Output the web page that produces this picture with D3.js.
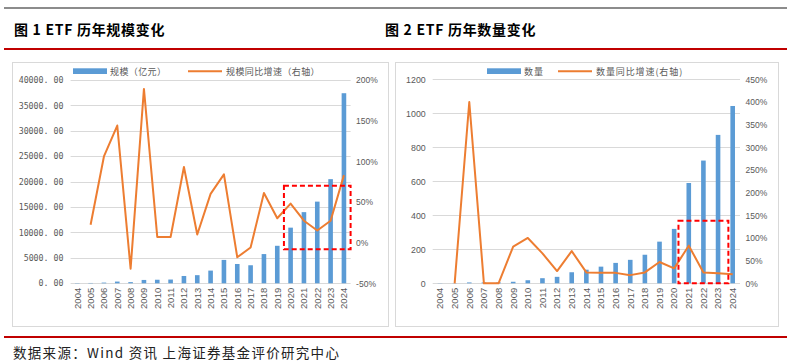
<!DOCTYPE html>
<html>
<head>
<meta charset="UTF-8">
<title>ETF</title>
<script src="https://d3js.org/d3.v7.min.js"></script>
<style>
  body { margin: 0; background: #fff; }
  svg { display: block; }
</style>
</head>
<body>
<div id="chart"></div>
<script>
// data
var years = ["2004", "2005", "2006", "2007", "2008", "2009", "2010", "2011", "2012", "2013",
             "2014", "2015", "2016", "2017", "2018", "2019", "2020", "2021", "2022", "2023", "2024"];
// fig 1: scale (100m yuan) and yoy growth (%)
var scaleValues = [54, 66, 140, 340, 230, 660, 700, 740, 1440, 1600, 2500, 4600, 3800, 3550,
                   5750, 7380, 10950, 14000, 16070, 20490, 37400];
var scaleGrowth = [null, 22, 106, 144, -32, 189, 7, 7, 93, 10, 60, 84, -18, -6,
                   61, 30, 48, 27, 15, 27, 83];
// fig 2: number of ETFs and yoy growth (%)
var countValues = [1, 1, 5, 5, 5, 9, 18, 30, 38, 65, 80, 98, 120, 138, 168, 245, 320, 590, 722, 873, 1043];
var countGrowth = [null, 0, 400, 0, 0, 81, 100, 66, 27, 71, 24, 23, 23, 18, 24, 47, 33, 83, 24, 22, 20];

// axis ticks
var leftTicks1 = [0, 5000, 10000, 15000, 20000, 25000, 30000, 35000, 40000];
var rightTicks1 = [-50, 0, 50, 100, 150, 200];
var leftTicks2 = [0, 200, 400, 600, 800, 1000, 1200];
var rightTicks2 = [0, 50, 100, 150, 200, 250, 300, 350, 400, 450];

var W = 796, H = 363;
var blue = "#5B9BD5", orange = "#ED7D31", grid = "#d9d9d9", txt = "#595959";
var cjk = "'Noto Sans CJK SC', sans-serif";

var svg = d3.select("#chart").append("svg")
    .attr("width", W)
    .attr("height", H);

svg.append("rect").attr("width", W).attr("height", H).attr("fill", "#fff");

// page rules
svg.append("line").attr("x1", 4).attr("x2", 787).attr("y1", 8).attr("y2", 8)
    .attr("stroke", "#8c8c8c").attr("stroke-width", 2);
svg.append("line").attr("x1", 4).attr("x2", 787).attr("y1", 49).attr("y2", 49)
    .attr("stroke", "#c00000").attr("stroke-width", 2);
svg.append("line").attr("x1", 4).attr("x2", 787).attr("y1", 337).attr("y2", 337)
    .attr("stroke", "#c00000").attr("stroke-width", 2);

// titles
svg.append("text").attr("x", 14).attr("y", 35)
    .attr("font-family", cjk).attr("font-weight", "bold").attr("font-size", "14px")
    .attr("letter-spacing", "0.7px")
    .attr("fill", "#000").text("图 1 ETF 历年规模变化");
svg.append("text").attr("x", 385).attr("y", 35)
    .attr("font-family", cjk).attr("font-weight", "bold").attr("font-size", "14px")
    .attr("letter-spacing", "0.7px")
    .attr("fill", "#000").text("图 2 ETF 历年数量变化");

// source
svg.append("text").attr("x", 13).attr("y", 358)
    .attr("font-family", cjk).attr("font-size", "13.5px")
    .attr("letter-spacing", "1.3px")
    .attr("fill", "#222").text("数据来源：Wind 资讯 上海证券基金评价研究中心");

// draws one panel
function drawPanel(cfg) {
    var g = svg.append("g");

    // frame
    g.append("rect")
        .attr("x", cfg.box[0] + 0.5).attr("y", cfg.box[1] + 0.5)
        .attr("width", cfg.box[2]).attr("height", cfg.box[3])
        .attr("fill", "#fff").attr("stroke", grid);

    var x = d3.scaleBand().domain(years).range(cfg.xRange);
    var yL = d3.scaleLinear().domain(cfg.leftDomain).range(cfg.yRange);
    var yR = d3.scaleLinear().domain(cfg.rightDomain).range(cfg.yRange);

    // gridlines
    g.selectAll(".grid").data(cfg.leftTicks).enter().append("line")
        .attr("x1", cfg.xRange[0]).attr("x2", cfg.xRange[1])
        .attr("y1", function(d) { return Math.round(yL(d)) + 0.5; })
        .attr("y2", function(d) { return Math.round(yL(d)) + 0.5; })
        .attr("stroke", grid).attr("stroke-width", 1);

    // left axis
    var left = g.append("g")
        .attr("transform", "translate(" + (cfg.xRange[0] - 7) + ",0)")
        .call(d3.axisLeft(yL).tickValues(cfg.leftTicks).tickSize(0).tickPadding(0)
            .tickFormat(cfg.leftFormat));
    left.select(".domain").remove();
    left.selectAll("text")
        .attr("font-family", cfg.leftFont).attr("font-size", cfg.leftSize)
        .attr("fill", txt);

    // right axis
    var right = g.append("g")
        .attr("transform", "translate(" + (cfg.xRange[1] + 5.5) + ",0)")
        .call(d3.axisRight(yR).tickValues(cfg.rightTicks).tickSize(0).tickPadding(0)
            .tickFormat(function(d) { return d + "%"; }));
    right.select(".domain").remove();
    right.selectAll("text")
        .attr("font-family", "'Liberation Sans', Arial, sans-serif").attr("font-size", "8.5px")
        .attr("fill", txt);

    // x labels
    var bottom = g.append("g")
        .attr("transform", "translate(0," + (cfg.yRange[0] + 4.5) + ")")
        .call(d3.axisBottom(x).tickSize(0).tickPadding(0));
    bottom.select(".domain").remove();
    bottom.selectAll("text")
        .attr("transform", "rotate(-90)")
        .attr("text-anchor", "end")
        .attr("x", 0).attr("y", 0).attr("dy", "0.35em")
        .attr("font-family", "'Liberation Sans', Arial, sans-serif").attr("font-size", "9.5px")
        .attr("fill", txt);

    // bars
    var bw = 4.6;
    g.selectAll(".bar").data(cfg.bars).enter().append("rect")
        .attr("x", function(d, i) { return x(years[i]) + x.bandwidth() / 2 - bw / 2; })
        .attr("y", function(d) { return yL(d); })
        .attr("width", bw)
        .attr("height", function(d) { return yL(0) - yL(d); })
        .attr("fill", blue);

    // growth line
    var line = d3.line()
        .defined(function(d) { return d != null; })
        .x(function(d, i) { return x(years[i]) + x.bandwidth() / 2; })
        .y(function(d) { return yR(d); });
    g.append("path").datum(cfg.growth)
        .attr("d", line)
        .attr("fill", "none").attr("stroke", orange).attr("stroke-width", 2)
        .attr("stroke-linejoin", "round");

    // legend
    var lg = g.append("g");
    lg.append("rect").attr("x", cfg.legend[0]).attr("y", 68.3)
        .attr("width", 34).attr("height", 5.7).attr("fill", blue);
    lg.append("text").attr("x", cfg.legend[0] + 37).attr("y", 74.5)
        .attr("font-family", cjk).attr("font-size", "9px").attr("letter-spacing", cfg.legendSpacing)
        .attr("fill", txt).text(cfg.names[0]);
    lg.append("line").attr("x1", cfg.legend[1]).attr("x2", cfg.legend[1] + 34)
        .attr("y1", 71.2).attr("y2", 71.2)
        .attr("stroke", orange).attr("stroke-width", 2);
    lg.append("text").attr("x", cfg.legend[1] + 38).attr("y", 74.5)
        .attr("font-family", cjk).attr("font-size", "9px").attr("letter-spacing", cfg.legendSpacing)
        .attr("fill", txt).text(cfg.names[1]);

    // red dashed highlight
    var hx0 = x(cfg.hl[0]) + cfg.hlPad[0];
    var hx1 = x(cfg.hl[1]) + cfg.hlPad[1];
    g.append("rect")
        .attr("x", hx0).attr("y", yR(cfg.hl[2]))
        .attr("width", hx1 - hx0).attr("height", yR(cfg.hl[3]) - yR(cfg.hl[2]))
        .attr("fill", "none").attr("stroke", "#ff0000").attr("stroke-width", 2)
        .attr("stroke-dasharray", "5,3");
}

drawPanel({
    box: [12, 62, 376, 264],
    xRange: [70.6, 350.6],
    yRange: [283.3, 80],
    leftDomain: [0, 40000],
    rightDomain: [-50, 200],
    leftTicks: leftTicks1,
    rightTicks: rightTicks1,
    leftFormat: function(d) { return d3.format(".2f")(d).replace(".", ". "); },
    leftFont: "'DejaVu Sans Mono', monospace",
    leftSize: "8.3px",
    bars: scaleValues,
    growth: scaleGrowth,
    legend: [73, 188],
    legendSpacing: "0.4px",
    names: ["规模（亿元）", "规模同比增速（右轴）"],
    hl: ["2020", "2024", 70, -8],
    hlPad: [0, 13.33]
});

drawPanel({
    box: [395, 62, 383, 264],
    xRange: [432.7, 740],
    yRange: [283.3, 79.3],
    leftDomain: [0, 1200],
    rightDomain: [0, 450],
    leftTicks: leftTicks2,
    rightTicks: rightTicks2,
    leftFormat: d3.format("d"),
    leftFont: "'Liberation Sans', Arial, sans-serif",
    leftSize: "8.8px",
    bars: countValues,
    growth: countGrowth,
    legend: [487, 558],
    legendSpacing: "0.9px",
    names: ["数量", "数量同比增速(右轴)"],
    hl: ["2021", "2024", 138, 0],
    hlPad: [-3, 3]
});
</script>
</body>
</html>
